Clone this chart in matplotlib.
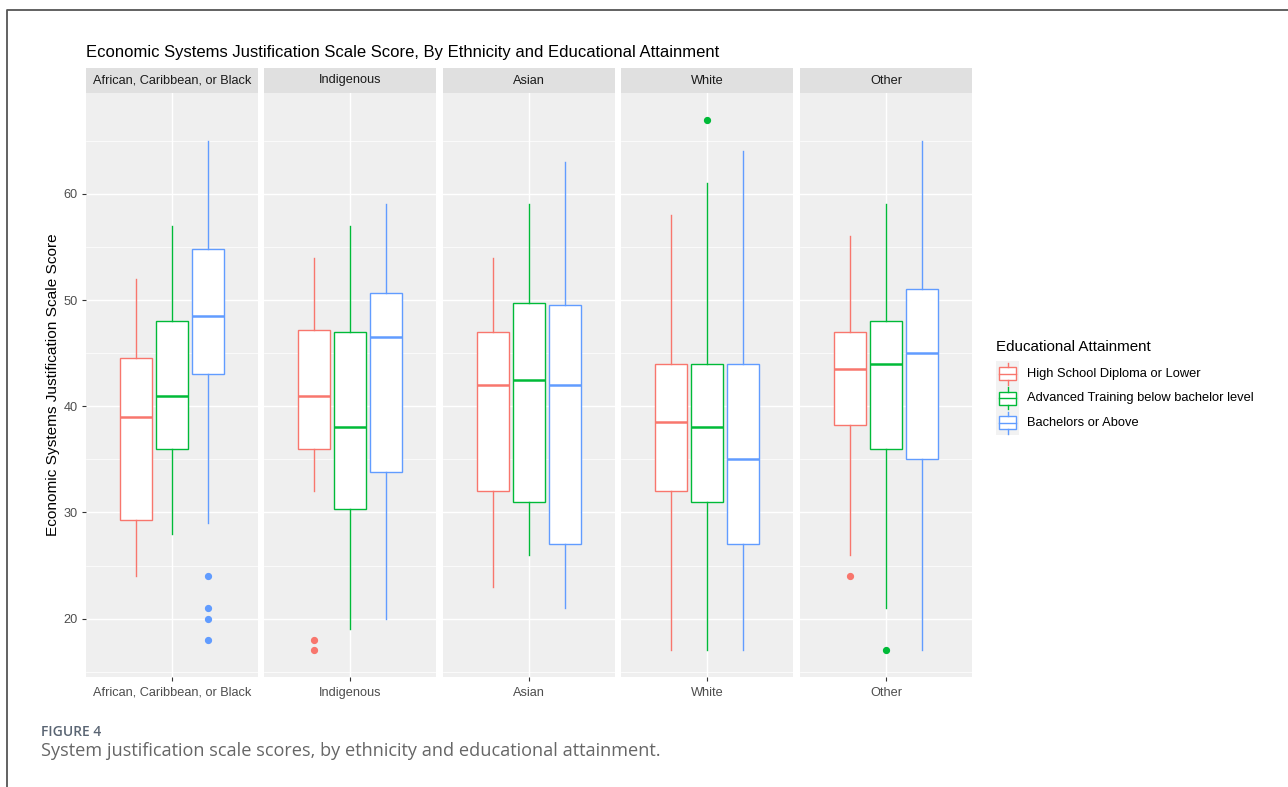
import matplotlib
matplotlib.use("Agg")
import matplotlib.pyplot as plt
from matplotlib.lines import Line2D
from matplotlib.patches import Rectangle

plt.rcParams['font.family'] = ['Liberation Sans', 'DejaVu Sans']

W, H = 1288, 787

ethnicities = ["African, Caribbean, or Black", "Indigenous", "Asian", "White", "Other"]
groups = ["High School Diploma or Lower", "Advanced Training below bachelor level",
          "Bachelors or Above"]
colors = ["#F8766D", "#00BA38", "#619CFF"]

# box stats per ethnicity, one row per education group: [whislo, q1, med, q3, whishi]
stats_black = [[24, 29.3, 39, 44.5, 52], [28, 36, 41, 48, 57], [29, 43, 48.5, 54.8, 65]]
stats_indig = [[32, 36, 41, 47.2, 54], [19, 30.3, 38, 47, 57], [20, 33.8, 46.5, 50.7, 59]]
stats_asian = [[23, 32, 42, 47, 54], [26, 31, 42.5, 49.7, 59], [21, 27, 42, 49.5, 63]]
stats_white = [[17, 32, 38.5, 44, 58], [17, 31, 38, 44, 61], [17, 27, 35, 44, 64]]
stats_other = [[26, 38.2, 43.5, 47, 56], [21, 36, 44, 48, 59], [17, 35, 45, 51, 65]]
all_stats = [stats_black, stats_indig, stats_asian, stats_white, stats_other]

# outliers per ethnicity, per education group
out_black = [[], [], [24, 21, 20, 18]]
out_indig = [[18, 17], [], []]
out_asian = [[], [], []]
out_white = [[], [67], []]
out_other = [[24], [17], []]
all_out = [out_black, out_indig, out_asian, out_white, out_other]

y_ticks = [20, 30, 40, 50, 60]
y_minor = [15, 25, 35, 45, 55, 65]


def px_axes(fig, x0, y0, x1, y1):
    return fig.add_axes([x0 / W, 1 - y1 / H, (x1 - x0) / W, (y1 - y0) / H])


fig = plt.figure(figsize=(W / 100, H / 100), dpi=100)

panel_left = [86, 264, 443, 621, 800]
panel_w = 172
top, strip_top, bottom = 93, 68, 677

for i, eth in enumerate(ethnicities):
    x0 = panel_left[i]
    ax = px_axes(fig, x0, top, x0 + panel_w, bottom)
    ax.set_facecolor("#EFEFEF")
    for s in ax.spines.values():
        s.set_visible(False)

    for g in range(3):
        lo, q1, med, q3, hi = all_stats[i][g]
        st = [dict(whislo=lo, q1=q1, med=med, q3=q3, whishi=hi, fliers=all_out[i][g])]
        c = colors[g]
        ax.bxp(st, positions=[1 + (g - 1) * 0.25], widths=0.22, patch_artist=True,
               showcaps=False, manage_ticks=False,
               boxprops=dict(facecolor="white", edgecolor=c, lw=1.0),
               medianprops=dict(color=c, lw=1.8),
               whiskerprops=dict(color=c, lw=1.0),
               flierprops=dict(marker="o", markerfacecolor=c, markeredgecolor=c,
                               markersize=4.2))

    ax.set_xlim(0.4, 1.6)
    ax.set_ylim(14.5, 69.5)
    ax.set_yticks(y_ticks)
    ax.set_yticks(y_minor, minor=True)
    ax.set_xticks([1])
    ax.set_xticks([], minor=True)
    ax.set_xticklabels([eth], color="#4D4D4D", fontsize=9.2)
    ax.grid(True, which="major", color="white", lw=1.0)
    ax.grid(True, which="minor", axis="y", color="white", lw=0.5)
    ax.set_axisbelow(True)
    ax.tick_params(axis="x", length=3, color="#333333", pad=4)
    ax.tick_params(which="minor", length=0)
    if i == 0:
        ax.set_yticklabels([str(v) for v in y_ticks], color="#4D4D4D", fontsize=9.2)
        ax.tick_params(axis="y", length=3, color="#333333", pad=3)
    else:
        ax.set_yticklabels([])
        ax.tick_params(axis="y", length=0)

    # strip
    sax = px_axes(fig, x0, strip_top, x0 + panel_w, top)
    sax.set_facecolor("#E0E0E0")
    sax.set_xticks([])
    sax.set_yticks([])
    for s in sax.spines.values():
        s.set_visible(False)
    sax.text(0.5, 0.5, eth, ha="center", va="center", fontsize=9.2, color="#1A1A1A",
             transform=sax.transAxes)

fig.text(86 / W, 1 - 52 / H, "Economic Systems Justification Scale Score, By Ethnicity and Educational Attainment",
         fontsize=12, va="center", ha="left", color="black")
fig.text(53 / W, 1 - 385 / H, "Economic Systems Justification Scale Score", rotation=90,
         fontsize=11.1, va="center", ha="center", color="black")

# legend
lax = px_axes(fig, 985, 330, 1288, 440)
lax.set_xlim(985, 1288)
lax.set_ylim(440, 330)
lax.axis("off")
lax.text(996, 347, "Educational Attainment", fontsize=10.9, va="center", ha="left")
key_y = [361, 385.5, 410]
for g in range(3):
    ky = key_y[g]
    c = colors[g]
    lax.add_patch(Rectangle((996, ky), 23, 24.5, facecolor="#F2F2F2", edgecolor="none"))
    lax.add_patch(Rectangle((999, ky + 6), 17, 13, facecolor="white", edgecolor=c, lw=1.0))
    lax.plot([999, 1016], [ky + 12.5, ky + 12.5], color=c, lw=1.0)
    lax.plot([1007.5, 1007.5], [ky + 1.5, ky + 6], color=c, lw=1.0)
    lax.plot([1007.5, 1007.5], [ky + 19, ky + 23.5], color=c, lw=1.0)
    lax.text(1027, ky + 12.5, groups[g], fontsize=9.3, va="center", ha="left")

# frame and caption
fig.add_artist(Line2D([7 / W, 7 / W, 1], [0, 1 - 10 / H, 1 - 10 / H],
                      color="#555555", lw=1.3, transform=fig.transFigure))
fig.text(41 / W, 1 - 732 / H, "FIGURE 4", fontsize=10, color="#5A6573",
         family=["Open Sans", "DejaVu Sans"], fontweight="semibold", va="center")
fig.text(41 / W, 1 - 751 / H, "System justification scale scores, by ethnicity and educational attainment.",
         fontsize=13.05, color="#666666", family=["Open Sans", "DejaVu Sans"], va="center")

fig.savefig("out.png", dpi=100)
